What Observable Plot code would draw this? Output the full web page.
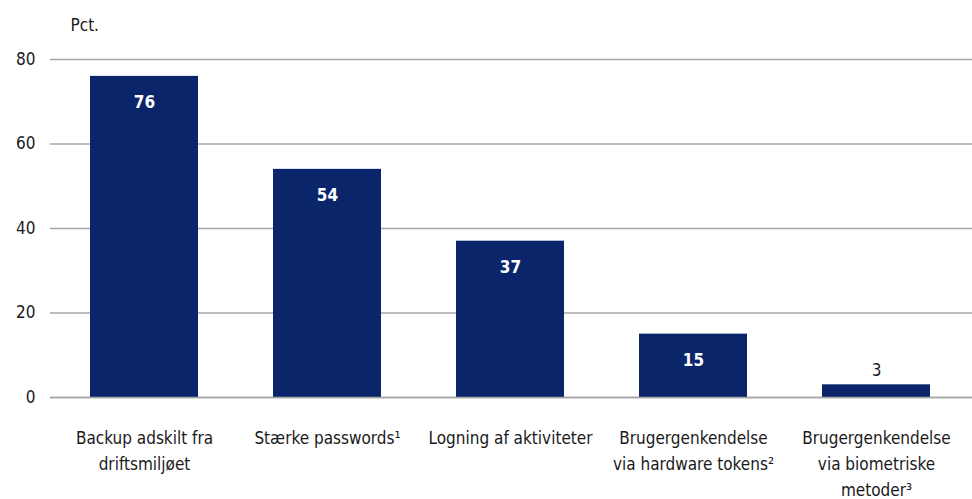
<!DOCTYPE html>
<html>
<head>
<meta charset="utf-8">
<script src="https://cdn.jsdelivr.net/npm/d3@7"></script>
<script src="https://cdn.jsdelivr.net/npm/@observablehq/plot@0.6"></script>
<style>
  html, body { margin: 0; padding: 0; background: #fff; }
  #chart svg { font-family: "Liberation Sans Narrow", "DejaVu Sans Condensed", sans-serif; }
</style>
</head>
<body>
<div id="chart"></div>
<script>
const categories = [
  "Backup adskilt fra\ndriftsmiljøet",
  "Stærke passwords¹",
  "Logning af aktiviteter",
  "Brugergenkendelse\nvia hardware tokens²",
  "Brugergenkendelse\nvia biometriske\nmetoder³"
];
const values = [76, 54, 37, 15, 3];
const yTicks = [0, 20, 40, 60, 80];
const yUnit = "Pct.";

const data = categories.map((c, i) => ({category: c, value: values[i]}));
const inside = data.filter(d => d.value >= 10);
const outside = data.filter(d => d.value < 10);

const chart = Plot.plot({
  width: 972,
  height: 499,
  marginTop: 59,
  marginBottom: 102,
  marginLeft: 50,
  marginRight: 0,
  style: {fontSize: "17px", fontFamily: '"Liberation Sans Narrow", "DejaVu Sans Condensed", sans-serif', color: "#1a1a1a"},
  x: {domain: categories, range: [51.4, 967.6], paddingInner: 0.41, paddingOuter: 0.205},
  y: {domain: [0, 80], ticks: yTicks},
  marks: [
    Plot.ruleY(yTicks, {stroke: "#a6a6a6", strokeWidth: 1.5}),
    Plot.barY(data, {x: "category", y: "value", fill: "#0a2569"}),
    Plot.ruleY([0], {stroke: "#a6a6a6", strokeWidth: 1.5}),
    Plot.axisY({ticks: yTicks, tickSize: 0, tickPadding: 15, label: null, fontSize: 17}),
    Plot.axisX({tickSize: 0, tickPadding: 28, label: null, lineAnchor: "top", lineHeight: 1.53, fontSize: 17}),
    Plot.text(inside, {x: "category", y: "value", text: d => String(d.value), dy: 26, fill: "white", fontWeight: "bold", fontSize: 17}),
    Plot.text(outside, {x: "category", y: "value", text: d => String(d.value), dy: -14, fill: "#1a1a1a", fontSize: 17}),
    Plot.text([yUnit], {frameAnchor: "top-left", dx: 20, dy: -41, textAnchor: "start", fontSize: 17, fill: "#1a1a1a"})
  ]
});
document.getElementById("chart").append(chart);
</script>
</body>
</html>
